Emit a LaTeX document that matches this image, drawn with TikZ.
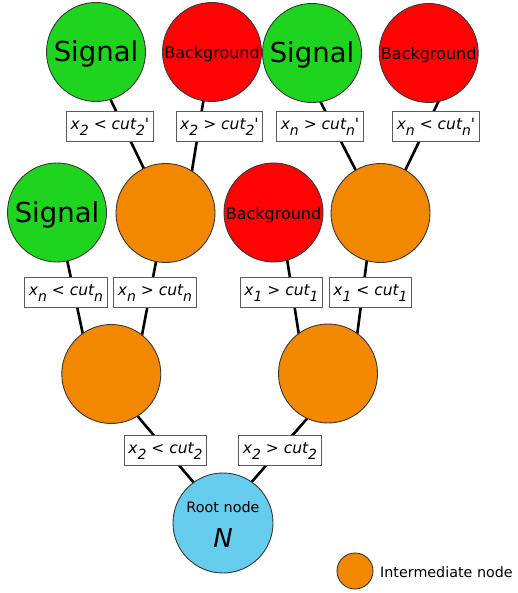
\documentclass[tikz,border=0pt]{standalone}
\usepackage{fontspec}
\setmainfont{DejaVu Sans}
\usetikzlibrary{backgrounds}
\definecolor{sigcol}{RGB}{30,212,30}
\definecolor{bkgcol}{RGB}{255,3,3}
\definecolor{intcol}{RGB}{242,135,0}
\definecolor{rootcol}{RGB}{102,204,238}
\definecolor{rimcol}{RGB}{55,55,55}
\definecolor{boxcol}{RGB}{90,90,90}
\newcommand\lowsub[1]{\raisebox{-6pt}{\fontsize{14}{14}\selectfont #1}}
\begin{document}
\begin{tikzpicture}[x=1pt,y=-1pt,
  ball/.style={circle, draw=rimcol, line width=0.9pt, minimum size=99pt, inner sep=0pt},
  sig/.style={ball, fill=sigcol, text height=20pt, text depth=0pt, font=\fontsize{27.5}{30}\selectfont},
  bkg/.style={ball, fill=bkgcol, text height=14pt, text depth=0pt, font=\fontsize{16}{18}\selectfont},
  inter/.style={ball, fill=intcol},
  rootball/.style={ball, fill=rootcol, minimum size=100pt, align=center, font=\fontsize{14.4}{35}\selectfont},
  cutbox/.style={draw=boxcol, line width=1.1pt, fill=white, inner xsep=4pt, inner ysep=0pt,
    text height=12.5pt, text depth=6pt, minimum height=30pt, font=\fontsize{15.5}{18}\selectfont\itshape},
  branch/.style={line width=2.6pt, shorten <=-3pt, shorten >=-3pt}]
\useasboundingbox (0,0) rectangle (517,593);
% top row
\node[sig] (sig1) at (96,52) {Signal};
\node[bkg] (bg1) at (212,52) {Background};
\node[sig] (sig2) at (312,53) {Signal};
\node[bkg] (bg2) at (428.7,53) {Background};
% second row
\node[sig] (sig3) at (57,212.5) {Signal};
\node[inter] (or1) at (165.5,213) {};
\node[bkg] (bg3) at (273.5,212.5) {Background};
\node[inter] (or2) at (380.5,213) {};
% third row
\node[inter] (or3) at (111.3,374) {};
\node[inter] (or4) at (328,373.5) {};
% root
\node[rootball] (root) at (223,523)
  {\rule{0pt}{14.9pt}Root node\\{\fontsize{26}{35}\selectfont\itshape N}};
% legend
\node[ball, fill=intcol, minimum size=36pt] (legball) at (355,571) {};
\node[anchor=west, inner sep=0pt, font=\fontsize{14.3}{16}\selectfont] (legtext) at (380,572) {Intermediate node};
% branches
\begin{pgfonlayer}{background}
\draw[branch] (or1.116) -- (sig1.-73);
\draw[branch] (or1.58) -- (bg1.-100);
\draw[branch] (or2.120) -- (sig2.-80);
\draw[branch] (or2.60) -- (bg2.-79);
\draw[branch] (or3.125) -- (sig3.-78);
\draw[branch] (or3.52) -- (or1.-101);
\draw[branch] (or4.126) -- (bg3.-74);
\draw[branch] (or4.54) -- (or2.-106);
\draw[branch] (root.126) -- (or3.-58);
\draw[branch] (root.55) -- (or4.-115);
\end{pgfonlayer}
% cut labels
\node[cutbox] (c1) at (110,126.7) {x\lowsub{2} < cut\lowsub{2}\textquotesingle};
\node[cutbox] (c2) at (219.5,126.7) {x\lowsub{2} > cut\lowsub{2}\textquotesingle};
\node[cutbox] (c3) at (320,126.7) {x\lowsub{n} > cut\lowsub{n}\textquotesingle};
\node[cutbox] (c4) at (436,126.7) {x\lowsub{n} < cut\lowsub{n}\textquotesingle};
\node[cutbox] (c5) at (66,292.5) {x\lowsub{n} < cut\lowsub{n}};
\node[cutbox] (c6) at (155,292.5) {x\lowsub{n} > cut\lowsub{n}};
\node[cutbox] (c7) at (281.5,292.5) {x\lowsub{1} > cut\lowsub{1}};
\node[cutbox] (c8) at (370.5,292.5) {x\lowsub{1} < cut\lowsub{1}};
\node[cutbox] (c9) at (165.5,450.3) {x\lowsub{2} < cut\lowsub{2}};
\node[cutbox] (c10) at (280,450.3) {x\lowsub{2} > cut\lowsub{2}};
\end{tikzpicture}
\end{document}
